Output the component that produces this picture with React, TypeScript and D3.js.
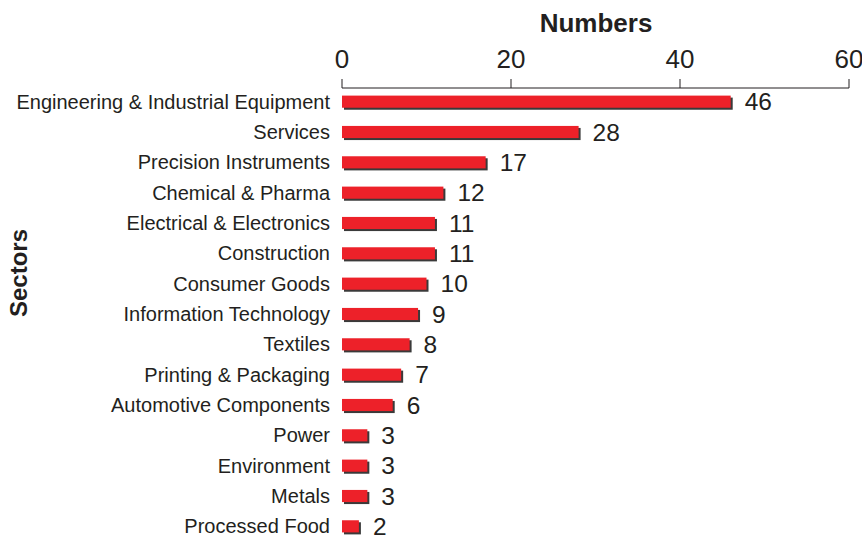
import React from "react";
import * as d3 from "d3";

const categories = [
  "Engineering & Industrial Equipment",
  "Services",
  "Precision Instruments",
  "Chemical & Pharma",
  "Electrical & Electronics",
  "Construction",
  "Consumer Goods",
  "Information Technology",
  "Textiles",
  "Printing & Packaging",
  "Automotive Components",
  "Power",
  "Environment",
  "Metals",
  "Processed Food",
];
const values = [46, 28, 17, 12, 11, 11, 10, 9, 8, 7, 6, 3, 3, 3, 2];
const ticks = [0, 20, 40, 60];

export default function App() {
  const W = 862, H = 538;
  const x = d3.scaleLinear().domain([0, 60]).range([342, 849]);
  const y = d3.scaleBand().domain(categories).range([86.5, 541.5]).paddingInner(0.6).paddingOuter(0.3);
  const bh = y.bandwidth();
  const font = "Liberation Sans, Arial, sans-serif";
  return (
    <svg width={W} height={H} style={{ position: "absolute", left: 0, top: 0 }} fontFamily={font}>
      <text x={596} y={32} textAnchor="middle" fontSize={26} fontWeight="bold" fill="#231f20">Numbers</text>
      <text transform={`translate(27,273) rotate(-90)`} textAnchor="middle" fontSize={24} fontWeight="bold" fill="#231f20">Sectors</text>
      <line x1={x(0)} x2={x(60)} y1={88} y2={88} stroke="#231f20" strokeWidth={1} />
      {ticks.map((t) => (
        <g key={t}>
          <line x1={x(t)} x2={x(t)} y1={79} y2={88} stroke="#231f20" strokeWidth={1} />
          <text x={x(t)} y={68} textAnchor="middle" fontSize={26} fill="#231f20">{t}</text>
        </g>
      ))}
      {categories.map((c, i) => {
        const y0 = y(c)!;
        const w = x(values[i]) - x(0);
        return (
          <g key={c}>
            <rect x={x(0) + 2} y={y0 + 2} width={w} height={bh} fill="#3a3a3a" />
            <rect x={x(0)} y={y0} width={w} height={bh} fill="#ed2129" />
            <text x={x(0) - 12} y={y0 + bh / 2 + 7} textAnchor="end" fontSize={20} fill="#231f20">{c}</text>
            <text x={x(values[i]) + 14} y={y0 + bh / 2 + 8.5} textAnchor="start" fontSize={24.5} fill="#231f20">{values[i]}</text>
          </g>
        );
      })}
    </svg>
  );
}
